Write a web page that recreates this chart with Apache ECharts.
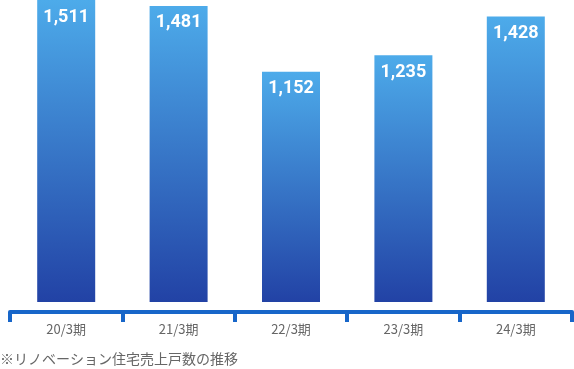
<!DOCTYPE html>
<html>
<head>
<meta charset="utf-8">
<script src="https://cdn.jsdelivr.net/npm/echarts@6/dist/echarts.min.js"></script>
<style>
html,body{margin:0;padding:0;background:#fff;}
#c{width:574px;height:369px;}
</style>
</head>
<body>
<div id="c"></div>
<script>
const categories = ['20/3期', '21/3期', '22/3期', '23/3期', '24/3期'];
const values = [1511, 1481, 1152, 1235, 1428];
const footnote = '※リノベーション住宅売上戸数の推移';

const chart = echarts.init(document.getElementById('c'), null, {renderer: 'canvas'});
chart.setOption({
  animation: false,
  backgroundColor: '#ffffff',
  grid: {left: 10, right: 2, top: 0, bottom: 67, containLabel: false},
  graphic: [{
    type: 'text',
    left: 0,
    top: 352,
    style: {
      text: footnote,
      fill: '#666666',
      font: '14px "Noto Sans CJK JP", sans-serif'
    }
  }],
  xAxis: {
    type: 'category',
    data: categories,
    offset: 10,
    axisLine: {onZero: false, lineStyle: {color: '#1766c9', width: 4}},
    axisTick: {show: true, length: 10, lineStyle: {color: '#1766c9', width: 4}},
    axisLabel: {
      color: '#666666',
      fontSize: 13,
      margin: 11,
      fontFamily: '"Noto Sans CJK JP", sans-serif'
    }
  },
  yAxis: {
    type: 'value',
    min: 0,
    max: 1511,
    show: false,
    splitLine: {show: false}
  },
  series: [{
    type: 'bar',
    data: values,
    barWidth: 58,
    itemStyle: {
      color: new echarts.graphic.LinearGradient(0, 0, 0, 1, [
        {offset: 0, color: '#4dabea'},
        {offset: 1, color: '#2242a5'}
      ])
    },
    label: {
      show: true,
      position: 'insideTop',
      distance: 8,
      color: '#ffffff',
      fontSize: 18,
      fontWeight: 'bold',
      fontFamily: 'Roboto, sans-serif',
      formatter: p => p.value.toLocaleString('en-US')
    }
  }]
});
</script>
</body>
</html>
